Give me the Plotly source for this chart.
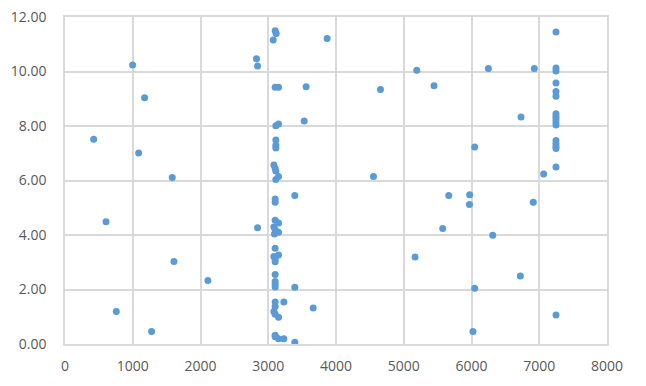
import plotly.graph_objects as go

x_vals = [423, 605, 757, 998, 1087, 1175, 1278, 1583, 1608, 2109,
          2827, 2842, 2842,
          3102, 3117, 3073, 3869, 3102, 3152, 3559, 3530, 3112, 3152,
          3112, 3112, 3112, 3083, 3102, 3112, 3152, 3112, 3392, 3102, 3102,
          3102, 3152, 3083, 3102, 3152, 3092, 3102, 3152, 3083, 3102, 3102,
          3102, 3102, 3102, 3102, 3392, 3102, 3230, 3102, 3083, 3102, 3152,
          3663, 3102, 3152, 3230, 3392, 3102,
          4656, 4553, 5192, 5447, 5167, 5575, 5664, 5973, 5969, 6047, 6047,
          6022, 6249, 6313, 6721, 6731, 6912, 6927, 7065,
          7247, 7247, 7247, 7247, 7247, 7247, 7247, 7247, 7247, 7247, 7247,
          7247, 7247, 7247, 7247, 7247, 7247]
y_vals = [7.51, 4.49, 1.19, 10.24, 7.01, 9.04, 0.46, 6.11, 3.03, 2.33,
          10.47, 10.20, 4.27,
          11.50, 11.39, 11.16, 11.21, 9.42, 9.42, 9.44, 8.18, 8.01, 8.07,
          7.49, 7.29, 7.19, 6.57, 6.44, 6.35, 6.15, 6.04, 5.45, 5.32, 5.20,
          4.54, 4.44, 4.29, 4.19, 4.10, 4.04, 3.51, 3.27, 3.21, 3.12, 3.02,
          2.55, 2.29, 2.19, 2.09, 2.08, 1.54, 1.54, 1.38, 1.19, 1.09, 0.98,
          1.32, 0.32, 0.19, 0.19, 0.06, 0.27,
          9.34, 6.15, 10.05, 9.48, 3.19, 4.24, 5.45, 5.48, 5.12, 7.23, 2.05,
          0.46, 10.11, 3.99, 2.50, 8.33, 5.20, 10.11, 6.24,
          11.45, 10.13, 10.02, 9.58, 9.27, 9.09, 8.45, 8.35, 8.26, 8.15, 8.04,
          7.47, 7.35, 7.25, 7.17, 6.50, 1.06]

x_ticks = [0, 1000, 2000, 3000, 4000, 5000, 6000, 7000, 8000]
y_ticks = [0, 2, 4, 6, 8, 10, 12]

fig = go.Figure()
fig.add_trace(go.Scatter(
    x=x_vals, y=y_vals, mode="markers",
    marker=dict(color="#5B9BD5", size=7, line=dict(width=0)),
    hoverinfo="x+y", showlegend=False,
))

grid = "#D9D9D9"
font = dict(family="Open Sans", size=14, color="#595959")
fig.update_layout(
    width=646, height=386,
    margin=dict(l=57, r=47, t=9, b=50, autoexpand=False),
    paper_bgcolor="white", plot_bgcolor="white",
    font=font,
    xaxis=dict(range=[0, 8000], tickvals=x_ticks, showgrid=True, gridcolor=grid,
               gridwidth=1.5, zeroline=False, showline=True, mirror=True,
               linecolor=grid, linewidth=1.5, ticks="", tickfont=font,
               ticklabelstandoff=8, ticklabeloverflow="allow",
               automargin=False, fixedrange=True),
    yaxis=dict(range=[0, 12], tickvals=y_ticks, tickformat=".2f", showgrid=True,
               gridcolor=grid, gridwidth=1.5, zeroline=False, showline=True,
               mirror=True, linecolor=grid, linewidth=1.5, ticks="",
               tickfont=font, ticklabelstandoff=14, ticklabeloverflow="allow",
               automargin=False, fixedrange=True),
)
fig.write_html("out.html")
